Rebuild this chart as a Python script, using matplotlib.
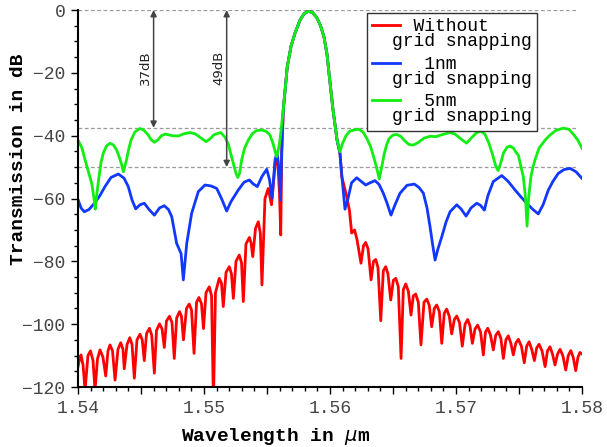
import matplotlib
matplotlib.use("Agg")
import matplotlib.pyplot as plt
from matplotlib.ticker import MultipleLocator, FuncFormatter
from matplotlib.legend_handler import HandlerLine2D

# ---------------- data (wavelength in um, transmission in dB) ----------------
lobe = [(1.55629, -31.8), (1.55661, -18.0), (1.55691, -11.5), (1.55722, -7.4),
        (1.55762, -3.2), (1.55794, -1.2), (1.55828, -0.4), (1.55861, -0.8),
        (1.55895, -2.4), (1.55925, -5.0), (1.55952, -8.5), (1.55976, -14.0),
        (1.55995, -21.2), (1.56024, -31.8), (1.56056, -41.4)]

red_left = [(1.54000, -113.5), (1.54016, -110.5), (1.54024, -109.8), (1.54040, -113.0),
            (1.54056, -121.0), (1.54079, -110.0), (1.54099, -108.5), (1.54119, -111.5),
            (1.54135, -121.0), (1.54155, -111.0), (1.54175, -108.2), (1.54198, -110.5),
            (1.54220, -116.5), (1.54238, -108.5), (1.54254, -106.6), (1.54274, -108.5),
            (1.54294, -117.8), (1.54317, -108.0), (1.54339, -105.9), (1.54357, -108.0),
            (1.54367, -114.2), (1.54389, -106.5), (1.54411, -104.3), (1.54429, -106.5),
            (1.54447, -117.2), (1.54468, -105.0), (1.54492, -103.2), (1.54510, -105.0),
            (1.54526, -111.6), (1.54544, -103.0), (1.54567, -101.3), (1.54585, -103.5),
            (1.54606, -115.6), (1.54623, -102.0), (1.54647, -99.9), (1.54667, -101.5),
            (1.54685, -107.4), (1.54702, -99.0), (1.54726, -97.5), (1.54746, -99.5),
            (1.54764, -110.9), (1.54783, -98.0), (1.54806, -96.0), (1.54821, -97.5),
            (1.54837, -105.0), (1.54861, -95.0), (1.54883, -93.6), (1.54901, -95.5),
            (1.54921, -109.3), (1.54941, -93.0), (1.54960, -91.5), (1.54980, -93.5),
            (1.54996, -101.4), (1.55016, -90.0), (1.55042, -88.1), (1.55060, -91.0),
            (1.55075, -125.0), (1.55091, -90.0), (1.55121, -85.4), (1.55139, -87.0),
            (1.55153, -94.4), (1.55175, -83.5), (1.55201, -81.7), (1.55218, -84.0),
            (1.55233, -91.8), (1.55254, -80.0), (1.55280, -78.0), (1.55298, -80.5),
            (1.55312, -92.8), (1.55333, -74.5), (1.55360, -72.4), (1.55373, -74.0),
            (1.55387, -78.5), (1.55409, -69.5), (1.55431, -67.4), (1.55447, -71.0),
            (1.55460, -87.5), (1.55484, -60.0), (1.55510, -56.8), (1.55536, -62.0),
            (1.55568, -47.5), (1.55583, -47.0), (1.55599, -58.0), (1.55609, -71.6),
            (1.55617, -45.0)]

red_right = [(1.56079, -45.6), (1.56093, -53.0), (1.56133, -59.4), (1.56155, -64.0),
             (1.56172, -71.0), (1.56195, -70.0), (1.56214, -73.0), (1.56246, -80.6),
             (1.56266, -75.0), (1.56283, -74.0), (1.56302, -76.0), (1.56326, -85.9),
             (1.56345, -80.0), (1.56363, -79.4), (1.56381, -82.0), (1.56403, -98.9),
             (1.56423, -83.0), (1.56442, -81.7), (1.56460, -84.0), (1.56482, -92.3),
             (1.56503, -86.0), (1.56522, -85.4), (1.56542, -88.0), (1.56564, -110.9),
             (1.56582, -89.0), (1.56601, -87.2), (1.56622, -89.5), (1.56643, -97.1),
             (1.56661, -91.0), (1.56680, -90.4), (1.56701, -93.0), (1.56722, -106.6),
             (1.56746, -93.0), (1.56768, -92.0), (1.56788, -94.0), (1.56807, -100.8),
             (1.56828, -95.0), (1.56847, -93.9), (1.56868, -96.0), (1.56887, -106.1),
             (1.56907, -96.5), (1.56926, -95.2), (1.56947, -97.5), (1.56966, -103.1),
             (1.56987, -98.5), (1.57006, -97.4), (1.57028, -99.5), (1.57050, -107.0),
             (1.57072, -100.0), (1.57093, -98.5), (1.57111, -100.5), (1.57130, -106.1),
             (1.57151, -101.5), (1.57172, -100.3), (1.57195, -102.5), (1.57217, -109.8),
             (1.57234, -102.5), (1.57252, -101.3), (1.57274, -103.5), (1.57296, -108.2),
             (1.57316, -103.5), (1.57336, -102.4), (1.57356, -104.5), (1.57376, -110.9),
             (1.57396, -105.0), (1.57415, -103.7), (1.57435, -106.0), (1.57455, -109.8),
             (1.57475, -106.0), (1.57495, -104.8), (1.57519, -107.0), (1.57542, -112.3),
             (1.57561, -107.0), (1.57580, -105.6), (1.57601, -108.0), (1.57622, -111.6),
             (1.57641, -107.5), (1.57659, -106.4), (1.57683, -108.5), (1.57707, -113.5),
             (1.57726, -108.5), (1.57746, -107.2), (1.57766, -109.5), (1.57786, -113.0),
             (1.57806, -109.5), (1.57826, -108.0), (1.57848, -110.0), (1.57871, -114.6),
             (1.57891, -110.0), (1.57911, -108.4), (1.57930, -110.5), (1.57950, -114.8),
             (1.57968, -110.5), (1.57984, -109.0), (1.58000, -109.5)]

blue_left = [(1.54000, -60.3), (1.54024, -63.0), (1.54050, -64.2), (1.54087, -63.5),
             (1.54135, -61.3), (1.54175, -59.0), (1.54214, -56.2), (1.54262, -53.3),
             (1.54320, -52.2), (1.54365, -53.5), (1.54399, -56.2), (1.54429, -60.5),
             (1.54458, -63.3), (1.54492, -62.0), (1.54526, -61.5), (1.54564, -63.5),
             (1.54606, -65.3), (1.54647, -63.0), (1.54685, -62.3), (1.54718, -63.5),
             (1.54744, -65.8), (1.54783, -74.3), (1.54818, -77.5), (1.54836, -85.9),
             (1.54863, -74.3), (1.54902, -64.7), (1.54955, -57.8), (1.55008, -55.7),
             (1.55056, -56.0), (1.55101, -56.8), (1.55139, -60.0), (1.55180, -64.0),
             (1.55214, -61.0), (1.55272, -57.3), (1.55318, -54.8), (1.55360, -54.1),
             (1.55389, -55.3), (1.55423, -56.2), (1.55460, -53.0), (1.55498, -50.7),
             (1.55520, -54.0), (1.55540, -59.9), (1.55564, -47.7), (1.55580, -45.2),
             (1.55599, -52.0), (1.55607, -60.5), (1.55617, -45.0)]

blue_right = [(1.56079, -45.6), (1.56099, -55.0), (1.56119, -63.4), (1.56143, -60.0),
              (1.56171, -55.0), (1.56212, -53.4), (1.56246, -54.5), (1.56283, -55.7),
              (1.56318, -55.0), (1.56357, -54.3), (1.56389, -55.5), (1.56423, -58.3),
              (1.56453, -61.5), (1.56484, -65.3), (1.56516, -62.0), (1.56556, -58.3),
              (1.56611, -55.8), (1.56669, -55.4), (1.56707, -56.5), (1.56741, -58.3),
              (1.56770, -63.0), (1.56794, -69.0), (1.56814, -74.5), (1.56834, -79.6),
              (1.56857, -76.0), (1.56887, -72.2), (1.56921, -67.5), (1.56953, -64.2),
              (1.57006, -62.0), (1.57040, -63.3), (1.57080, -65.6), (1.57119, -63.0),
              (1.57165, -61.5), (1.57195, -62.2), (1.57225, -63.7), (1.57254, -59.0),
              (1.57296, -54.6), (1.57363, -52.7), (1.57413, -54.5), (1.57469, -57.3),
              (1.57516, -59.5), (1.57561, -61.5), (1.57611, -63.5), (1.57653, -64.9),
              (1.57691, -62.0), (1.57733, -57.3), (1.57770, -54.5), (1.57812, -52.0),
              (1.57857, -50.8), (1.57905, -50.4), (1.57953, -51.5), (1.58000, -53.6)]

green_left = [(1.54000, -41.4), (1.54032, -44.0), (1.54056, -47.7), (1.54083, -51.5),
              (1.54109, -55.2), (1.54127, -60.0), (1.54137, -63.4), (1.54151, -58.0),
              (1.54167, -53.0), (1.54183, -48.5), (1.54201, -45.5), (1.54226, -43.3),
              (1.54254, -42.4), (1.54282, -43.0), (1.54307, -44.6), (1.54329, -47.0),
              (1.54347, -49.3), (1.54360, -51.5), (1.54373, -49.5), (1.54385, -47.7),
              (1.54401, -44.5), (1.54421, -41.4), (1.54452, -38.8), (1.54492, -37.7),
              (1.54524, -38.3), (1.54558, -39.8), (1.54579, -41.2), (1.54606, -42.1),
              (1.54635, -41.3), (1.54663, -40.0), (1.54691, -39.5), (1.54718, -39.7),
              (1.54746, -40.0), (1.54796, -40.1), (1.54841, -39.4), (1.54889, -39.0),
              (1.54929, -39.4), (1.54968, -40.5), (1.55016, -41.9), (1.55048, -41.0),
              (1.55079, -39.7), (1.55133, -39.0), (1.55167, -40.5), (1.55195, -43.0),
              (1.55214, -46.0), (1.55233, -48.8), (1.55254, -52.0), (1.55268, -53.3),
              (1.55282, -52.0), (1.55299, -47.7), (1.55322, -44.0), (1.55352, -41.4),
              (1.55385, -39.3), (1.55417, -38.4), (1.55458, -38.2), (1.55492, -38.6),
              (1.55524, -39.8), (1.55548, -42.5), (1.55564, -45.0), (1.55577, -46.7),
              (1.55590, -44.5), (1.55603, -41.4)]

green_right = [(1.56079, -45.1), (1.56099, -42.5), (1.56127, -40.0), (1.56159, -38.5),
               (1.56225, -37.9), (1.56262, -38.8), (1.56294, -41.0), (1.56322, -43.5),
               (1.56341, -46.0), (1.56369, -50.0), (1.56391, -53.8), (1.56413, -49.5),
               (1.56429, -46.0), (1.56449, -43.0), (1.56468, -41.0), (1.56500, -39.8),
               (1.56530, -39.6), (1.56564, -40.3), (1.56595, -41.7), (1.56627, -42.8),
               (1.56661, -43.0), (1.56699, -42.2), (1.56746, -40.8), (1.56794, -40.2),
               (1.56841, -40.3), (1.56897, -39.6), (1.56953, -39.0), (1.56992, -39.5),
               (1.57032, -40.8), (1.57084, -42.4), (1.57127, -40.5), (1.57159, -39.2),
               (1.57195, -38.6), (1.57230, -39.5), (1.57262, -42.5), (1.57290, -46.0),
               (1.57314, -49.5), (1.57334, -51.1), (1.57353, -49.0), (1.57377, -45.5),
               (1.57405, -43.7), (1.57429, -43.3), (1.57457, -44.0), (1.57476, -45.3),
               (1.57495, -46.2), (1.57516, -50.0), (1.57534, -53.0), (1.57552, -60.0),
               (1.57564, -68.8), (1.57576, -60.0), (1.57595, -53.0), (1.57611, -50.0),
               (1.57627, -47.7), (1.57659, -44.0), (1.57707, -41.4), (1.57746, -39.8),
               (1.57794, -38.3), (1.57853, -37.6), (1.57897, -38.0), (1.57937, -39.8),
               (1.57968, -41.5), (1.58000, -44.0)]

labels = ["  Without\ngrid snapping", "   1nm\ngrid snapping", "   5nm\ngrid snapping"]
colors = ["#ff0000", "#1038ff", "#12ee12"]
ref_levels = [0.0, -37.5, -50.0]
arrow_x = [1.5460, 1.5518]
arrow_bottom = [-37.5, -50.0]
arrow_text = ["37dB", "49dB"]
xticks_major = [1.54, 1.545, 1.55, 1.555, 1.56, 1.565, 1.57, 1.575, 1.58]


class FirstLineHandler(HandlerLine2D):
    """Place the legend line next to the first line of a two-line label."""
    def __init__(self, shift, **kw):
        super().__init__(**kw)
        self._shift = shift

    def create_artists(self, legend, orig_handle, xdescent, ydescent, width, height,
                       fontsize, trans):
        arts = super().create_artists(legend, orig_handle, xdescent, ydescent, width,
                                      height, fontsize, trans)
        for a in arts:
            a.set_ydata([y + self._shift for y in a.get_ydata()])
        return arts


# ---------------- figure ----------------
mono = "Liberation Mono"
fig = plt.figure(figsize=(6.07, 4.47), dpi=100)
ax = fig.add_axes([0.1285, 0.1342, 0.8303, 0.8434])

for lvl in ref_levels:
    ax.hlines(lvl, 1.54, 1.5795, colors="#9a9a9a", linestyles=(0, (3, 2)), linewidth=0.9, zorder=1)

series = [red_left + lobe + red_right, blue_left + lobe + blue_right, green_left + lobe + green_right]
lines = []
for pts, c, lab in zip(series, colors, labels):
    xs = [p[0] for p in pts]
    ys = [p[1] for p in pts]
    ln, = ax.plot(xs, ys, color=c, lw=2.0, label=lab, zorder=2, solid_joinstyle="round")
    lines.append(ln)

for x, yb, t in zip(arrow_x, arrow_bottom, arrow_text):
    ax.annotate("", xy=(x, yb), xytext=(x, 0.0),
                arrowprops=dict(arrowstyle="<|-|>", color="#444444", lw=1.1,
                                mutation_scale=9, shrinkA=0, shrinkB=0), zorder=3)
    ax.text(x - 0.00065, -18.5, t, rotation=90, ha="center", va="center",
            fontsize=9.5, color="#222222", family="DejaVu Sans")

ax.set_xlim(1.54, 1.58)
ax.set_ylim(-120, 0)
ax.set_xticks(xticks_major)
ax.xaxis.set_major_formatter(FuncFormatter(
    lambda v, p: ("%.2f" % v) if abs(round(v * 100) - v * 100) < 1e-6 else ""))
ax.xaxis.set_minor_locator(MultipleLocator(0.001))
ax.yaxis.set_major_locator(MultipleLocator(20))
ax.yaxis.set_minor_locator(MultipleLocator(5))

for s in ["top", "right"]:
    ax.spines[s].set_visible(False)
for s in ["left", "bottom"]:
    ax.spines[s].set_linewidth(1.5)

ax.tick_params(which="major", direction="out", length=5, width=1.0, labelsize=13,
               labelcolor="#444444", pad=4)
ax.tick_params(which="minor", direction="out", length=2.6, width=1.0)
for lab in ax.get_xticklabels() + ax.get_yticklabels():
    lab.set_family(mono)

ax.set_xlabel(r"Wavelength in $\mu$m", fontsize=14, fontweight="bold", family=mono)
ax.set_ylabel("Transmission in dB", fontsize=14, fontweight="bold", family=mono)
ax.xaxis.set_label_coords(0.393, -0.103)
ax.yaxis.set_label_coords(-0.101, 0.605)

leg = ax.legend(handles=lines, loc="upper right", bbox_to_anchor=(0.911, 0.992),
                prop={"family": mono, "size": 13},
                frameon=True, fancybox=False, framealpha=1, edgecolor="#333333",
                handlelength=1.55, handletextpad=-0.45, labelspacing=0.3, borderpad=0.3,
                borderaxespad=0,
                handler_map={ln: FirstLineHandler(6.8) for ln in lines})
leg.get_frame().set_linewidth(1.0)
for t in leg.get_texts():
    t.set_linespacing(0.85)

fig.savefig("out.png", dpi=100)
